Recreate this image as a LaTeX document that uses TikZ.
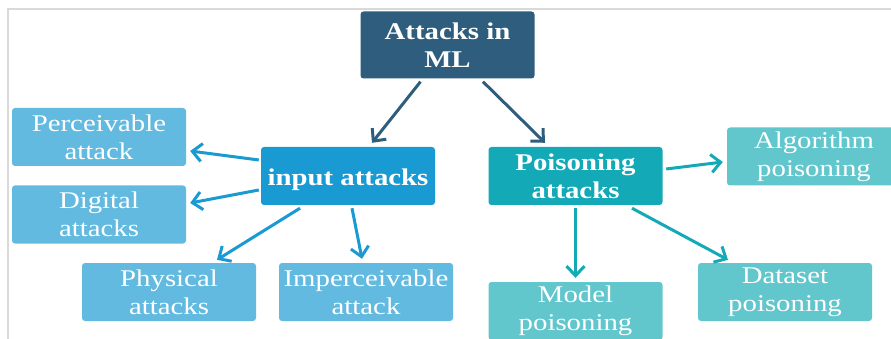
\documentclass[tikz,border=0pt]{standalone}
\usepackage{fontspec}
\setmainfont[FakeStretch=1.2]{Liberation Serif}
\usetikzlibrary{arrows.meta,calc}

\definecolor{rootblue}{HTML}{2F5D7E}
\definecolor{inblue}{HTML}{1A9AD3}
\definecolor{leafblue}{HTML}{63BAE0}
\definecolor{poisteal}{HTML}{14A9B6}
\definecolor{leafteal}{HTML}{62C6CD}
\definecolor{framegray}{HTML}{D9D9D9}

\tikzset{
  box/.style={rounded corners=3pt, minimum width=174pt, minimum height=58pt,
    inner sep=0pt, align=center, text=white,
    font=\fontsize{24}{28}\selectfont},
  hub/.style={box, font=\fontsize{24}{28}\selectfont\bfseries},
  link/.style={line width=3pt, -{Straight Barb[length=9.5pt,width=18pt,line width=3pt]}},
}

\begin{document}
\begin{tikzpicture}[x=1pt, y=-1pt]
  \useasboundingbox (0,0) rectangle (891,339);
  \clip (0,0) rectangle (891,339);

  % frame lines
  \draw[framegray, line width=2.5pt] (8,339) -- (8,9) -- (891,9);

  % nodes
  \node[hub, fill=rootblue, minimum height=67pt] (root) at (447.5,45) {Attacks in\\ML};
  \node[hub, fill=inblue] (input) at (348,176) {\raisebox{-3.5pt}[\height][\depth]{input attacks}};
  \node[hub, fill=poisteal] (pois) at (575.5,176) {Poisoning\\attacks};

  \node[box, fill=leafblue] (perc) at (99,137) {Perceivable\\attack};
  \node[box, fill=leafblue] (digi) at (99,214.5) {Digital\\attacks};
  \node[box, fill=leafblue] (phys) at (169,292) {Physical\\attacks};
  \node[box, fill=leafblue] (imper) at (366,292) {Imperceivable\\attack};

  \node[box, fill=leafteal] (algo) at (814,156.5) {Algorithm\\poisoning};
  \node[box, fill=leafteal] (model) at (575.5,311) {Model\\poisoning};
  \node[box, fill=leafteal] (data) at (785,292) {Dataset\\poisoning};

  % connectors
  \draw[link, rootblue] ($(root.south)+(-27,3)$) -- ($(input.north)+(24,-4)$);
  \draw[link, rootblue] ($(root.south)+(35.5,3)$) -- ($(pois.north)+(-30.5,-4)$);

  \draw[link, inblue] ($(input.west)+(-2,-16)$) -- ($(perc.east)+(4,14)$);
  \draw[link, inblue] ($(input.west)+(-2,14)$) -- ($(digi.east)+(4,-11.5)$);
  \draw[link, inblue] ($(input.south)+(-48,3)$) -- ($(phys.north)+(48,-3)$);
  \draw[link, inblue] ($(input.south)+(4,3)$) -- ($(imper.north)+(-4,-4)$);

  \draw[link, poisteal] ($(pois.east)+(3.5,-7)$) -- ($(algo.west)+(-4,5.5)$);
  \draw[link, poisteal] ($(pois.south)+(0,3)$) -- ($(model.north)+(0,-4)$);
  \draw[link, poisteal] ($(pois.south)+(56.5,3)$) -- ($(data.north)+(-57,-3)$);
\end{tikzpicture}
\end{document}
